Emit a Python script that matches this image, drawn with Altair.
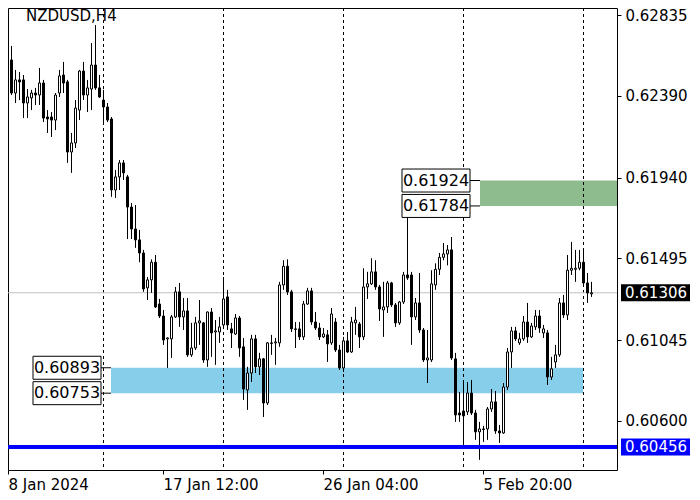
import altair as alt
import pandas as pd

# ---------------- data (NZDUSD, H4) ----------------
opens = [0.62439,0.62489,0.62588,0.62406,0.62478,0.62478,0.62351,0.62379,0.62406,0.62395,
         0.62461,0.62274,0.62274,0.62257,0.62406,0.62505,0.62467,0.62081,0.62131,0.62312,
         0.62527,0.62395,0.62428,0.62560,0.62434,0.62367,0.62329,0.62263,0.61872,0.61944,
         0.62021,0.61944,0.61778,0.61657,0.61597,0.61525,0.61333,0.61377,0.61474,0.61244,
         0.61178,0.61052,0.61052,0.61173,0.61311,0.61173,0.61206,0.60964,0.61002,0.61140,
         0.61140,0.60936,0.61200,0.61090,0.61090,0.61129,0.61283,0.61107,0.61079,0.61167,
         0.61008,0.60771,0.60864,0.61052,0.60898,0.60942,0.60699,0.61030,0.61030,0.61030,
         0.61349,0.61452,0.61311,0.61107,0.61107,0.61063,0.61244,0.61316,0.61145,0.61112,
         0.61063,0.61074,0.61030,0.61145,0.60991,0.60892,0.61041,0.60980,0.61140,0.61134,
         0.61063,0.61338,0.61355,0.61421,0.61338,0.61211,0.61228,0.61360,0.61239,0.61140,
         0.61255,0.61404,0.61404,0.61173,0.61250,0.61101,0.60936,0.60936,0.61349,0.61435,
         0.61501,0.61520,0.61542,0.60942,0.60644,0.60655,0.60650,0.60754,0.60644,0.60540,
         0.60556,0.60556,0.60666,0.60705,0.60545,0.60534,0.60787,0.60980,0.61096,0.61030,
         0.61052,0.61145,0.61063,0.61118,0.61178,0.61085,0.61085,0.60842,0.60925,0.60964,
         0.61250,0.61184,0.61430,0.61435,0.61441,0.61474,0.61360,0.61300]
highs = [0.62555,0.62588,0.62665,0.62533,0.62522,0.62505,0.62428,0.62423,0.62434,0.62544,
         0.62478,0.62312,0.62301,0.62406,0.62533,0.62577,0.62478,0.62186,0.62367,0.62533,
         0.62577,0.62478,0.62681,0.62780,0.62505,0.62423,0.62351,0.62274,0.61982,0.62037,
         0.62037,0.61955,0.61800,0.61789,0.61652,0.61542,0.61393,0.61490,0.61514,0.61272,
         0.61211,0.61060,0.61184,0.61338,0.61360,0.61277,0.61277,0.61140,0.61173,0.61266,
         0.61145,0.61203,0.61222,0.61156,0.61173,0.61393,0.61322,0.61140,0.61189,0.61178,
         0.61057,0.60898,0.61074,0.61074,0.60975,0.60947,0.61035,0.61074,0.61057,0.61366,
         0.61485,0.61490,0.61322,0.61145,0.61145,0.61261,0.61333,0.61333,0.61200,0.61140,
         0.61112,0.61101,0.61222,0.61167,0.61019,0.61063,0.61090,0.61173,0.61228,0.61145,
         0.61441,0.61421,0.61496,0.61485,0.61349,0.61366,0.61371,0.61366,0.61250,0.61261,
         0.61421,0.61734,0.61421,0.61277,0.61415,0.61112,0.61101,0.61430,0.61468,0.61525,
         0.61580,0.61569,0.61613,0.60975,0.60760,0.60809,0.60815,0.60826,0.60661,0.60595,
         0.60573,0.60677,0.60776,0.60765,0.60578,0.60809,0.61002,0.61118,0.61118,0.61085,
         0.61178,0.61250,0.61140,0.61211,0.61211,0.61129,0.61101,0.60953,0.61019,0.61277,
         0.61294,0.61514,0.61586,0.61542,0.61542,0.61542,0.61415,0.61366]
lows = [0.62356,0.62450,0.62395,0.62351,0.62367,0.62268,0.62268,0.62312,0.62340,0.62340,
        0.62246,0.62186,0.62164,0.62202,0.62384,0.62406,0.62021,0.61966,0.62103,0.62257,
        0.62367,0.62301,0.62312,0.62423,0.62379,0.62241,0.62246,0.61834,0.61828,0.61872,
        0.61927,0.61602,0.61602,0.61553,0.61474,0.61311,0.61266,0.61305,0.61222,0.61167,
        0.61019,0.60892,0.60947,0.61167,0.61118,0.61101,0.60953,0.60953,0.60991,0.61019,
        0.60920,0.60898,0.60953,0.60909,0.61030,0.61107,0.61101,0.61002,0.61074,0.60953,
        0.60716,0.60661,0.60815,0.60864,0.60853,0.60622,0.60688,0.60964,0.60909,0.61008,
        0.61322,0.61294,0.61090,0.61002,0.61046,0.61046,0.61239,0.61129,0.61101,0.61046,
        0.61057,0.60925,0.61019,0.60980,0.60881,0.60870,0.60975,0.60975,0.61074,0.61002,
        0.61046,0.61272,0.61349,0.61322,0.61151,0.61063,0.61195,0.61228,0.61118,0.61129,
        0.61244,0.61377,0.61019,0.61156,0.61085,0.60925,0.60809,0.60925,0.61322,0.61404,
        0.61485,0.61457,0.60936,0.60595,0.60595,0.60468,0.60633,0.60633,0.60496,0.60386,
        0.60485,0.60496,0.60650,0.60529,0.60479,0.60529,0.60771,0.60892,0.61041,0.61019,
        0.61041,0.61030,0.61057,0.61101,0.61085,0.61057,0.60798,0.60826,0.60892,0.60953,
        0.61167,0.61156,0.61404,0.61366,0.61430,0.61349,0.61250,0.61283]
closes = [0.62483,0.62582,0.62406,0.62478,0.62467,0.62351,0.62384,0.62406,0.62395,0.62461,
          0.62268,0.62263,0.62257,0.62395,0.62500,0.62461,0.62081,0.62131,0.62323,0.62527,
          0.62395,0.62434,0.62560,0.62434,0.62384,0.62329,0.62257,0.61872,0.61944,0.62021,
          0.61966,0.61778,0.61657,0.61597,0.61525,0.61327,0.61377,0.61474,0.61228,0.61178,
          0.61046,0.61057,0.61173,0.61311,0.61173,0.61206,0.60964,0.61002,0.61140,0.61151,
          0.60936,0.61200,0.61085,0.61096,0.61118,0.61272,0.61129,0.61085,0.61167,0.61002,
          0.60776,0.60864,0.61052,0.60898,0.60942,0.60699,0.61030,0.61027,0.61035,0.61349,
          0.61452,0.61311,0.61107,0.61104,0.61063,0.61244,0.61316,0.61145,0.61112,0.61063,
          0.61079,0.61024,0.61189,0.60991,0.60892,0.61041,0.60980,0.61145,0.61156,0.61063,
          0.61338,0.61355,0.61421,0.61338,0.61217,0.61228,0.61360,0.61239,0.61140,0.61255,
          0.61404,0.61388,0.61173,0.61250,0.61101,0.60936,0.60947,0.61355,0.61435,0.61501,
          0.61520,0.61542,0.60947,0.60633,0.60633,0.60628,0.60754,0.60644,0.60540,0.60556,
          0.60553,0.60666,0.60705,0.60545,0.60534,0.60787,0.60980,0.61096,0.61052,0.61052,
          0.61145,0.61063,0.61123,0.61178,0.61112,0.61107,0.60842,0.60887,0.60964,0.61250,
          0.61184,0.61430,0.61441,0.61441,0.61474,0.61360,0.61305,0.61306]

y_ticks = [0.62835, 0.62390, 0.61940, 0.61495, 0.61045, 0.60600]
x_tick_bars = [0, 40, 80, 120]
x_tick_labels = ["8 Jan 2024", "17 Jan 12:00", "26 Jan 04:00", "5 Feb 20:00"]
week_separators = [25, 55, 85, 115, 145]

support_zone = [0.60753, 0.60893]
support_zone_bars = [27, 145]
resist_zone = [0.61784, 0.61924]
resist_zone_bars = [119.25, 153.5]
support_line = 0.60456
bid_price = 0.61306
symbol = "NZDUSD,H4"

# ---------------- layout ----------------
FONT = "DejaVu Sans"
W, H = 609, 462
X_DOM = [1.25, 153.5]
Y_DOM = [0.60330, 0.62874]
PX = (Y_DOM[1] - Y_DOM[0]) / H  # price per pixel

df = pd.DataFrame({"idx": list(range(len(opens))), "open": opens, "high": highs,
                   "low": lows, "close": closes})
df["top"] = df[["open", "close"]].max(axis=1)
df["bot"] = df[["open", "close"]].min(axis=1)
df["fillc"] = ["white" if c >= o else "black" for o, c in zip(opens, closes)]

xscale = alt.Scale(domain=X_DOM, nice=False, zero=False, padding=0)
yscale = alt.Scale(domain=Y_DOM, nice=False, zero=False, padding=0)

tick_pos = [max(v, X_DOM[0]) for v in x_tick_bars]
expr = "''"
for p, lab in reversed(list(zip(tick_pos, x_tick_labels))):
    expr = f"abs(datum.value - {p}) < 1 ? '{lab}' : ({expr})"

xaxis = alt.Axis(values=tick_pos, labelExpr=expr, title=None, grid=False, domain=False,
                 tickSize=4, tickColor="black", labelAlign="left", labelBaseline="top",
                 labelPadding=3, labelFont=FONT, labelFontSize=15, labelColor="black",
                 labelFlush=False, labelOverlap=False)
yaxis = alt.Axis(values=y_ticks, format=".5f", orient="right", title=None, grid=False,
                 domain=False, tickSize=4, tickColor="black", labelPadding=4,
                 labelFont=FONT, labelFontSize=15, labelColor="black", labelBaseline="middle",
                 labelOverlap=False, labelFlush=False)


def X(f):
    return alt.X(f, type="quantitative", scale=xscale, axis=xaxis)


def Y(f):
    return alt.Y(f, type="quantitative", scale=yscale, axis=yaxis)


# zones
zones = pd.DataFrame({
    "x0": [support_zone_bars[0], resist_zone_bars[0]],
    "x1": [support_zone_bars[1], resist_zone_bars[1]],
    "lo": [support_zone[0], resist_zone[0]],
    "hi": [support_zone[1], resist_zone[1]],
    "col": ["#87CEEB", "#8FBC8F"],
})
zone_layer = alt.Chart(zones).mark_rect(clip=True).encode(
    x=X("x0"), x2="x1", y=Y("lo"), y2="hi", color=alt.Color("col:N", scale=None))

sep_layer = alt.Chart(pd.DataFrame({"s": week_separators})).mark_rule(
    color="black", strokeWidth=1, strokeDash=[3, 3], xOffset=0.5).encode(x=X("s"))

bid_layer = alt.Chart(pd.DataFrame({"p": [bid_price]})).mark_rule(
    color="#C0C0C0", strokeWidth=1).encode(y=Y("p"))

wick_layer = alt.Chart(df).mark_rule(color="black", strokeWidth=1, clip=True, xOffset=0.5).encode(
    x=X("idx"), y=Y("low"), y2="high")
body_layer = alt.Chart(df).mark_bar(size=2, stroke="black", strokeWidth=1, clip=True,
                                    xOffset=0.5).encode(
    x=X("idx"), y=Y("bot"), y2="top", color=alt.Color("fillc:N", scale=None))

line_layer = alt.Chart(pd.DataFrame({"p": [support_line]})).mark_rule(
    color="#0000FF", strokeWidth=4).encode(y=Y("p"))

# price label boxes on the chart
BOX_H = 11.5 * PX
boxes = pd.DataFrame({
    "p": [support_zone[1], support_zone[0], resist_zone[1], resist_zone[0]],
    "bx0": [7.5, 7.5, 99.75, 99.75],
    "bx1": [24.5, 24.5, 116.75, 116.75],
    "zx": [support_zone_bars[0]] * 2 + [resist_zone_bars[0]] * 2,
})
boxes["lab"] = [f"{v:.5f}" for v in boxes["p"]]
boxes["bxc"] = (boxes["bx0"] + boxes["bx1"]) / 2
boxes["plo"] = boxes["p"] - BOX_H
boxes["phi"] = boxes["p"] + BOX_H
conn_layer = alt.Chart(boxes).mark_rule(color="black", strokeWidth=1).encode(
    x=X("bx1"), x2="zx", y=Y("p"))
box_layer = alt.Chart(boxes).mark_rect(fill="white", stroke="black", strokeWidth=1).encode(
    x=X("bx0"), x2="bx1", y=Y("plo"), y2="phi")
box_text = alt.Chart(boxes).mark_text(font=FONT, fontSize=16, color="black", align="center",
                                      baseline="middle").encode(
    x=X("bxc"), y=Y("p"), text="lab:N")

# axis-side price tags
TAG_H = 8.5 * PX
tags = pd.DataFrame({"p": [bid_price, support_line], "col": ["black", "#0000FF"]})
tags["lab"] = [f"{v:.5f}" for v in tags["p"]]
tags["plo"] = tags["p"] - TAG_H
tags["phi"] = tags["p"] + TAG_H
tag_rect = alt.Chart(tags).mark_rect().encode(
    x=alt.value(W + 4), x2=alt.value(W + 73), y=Y("plo"), y2="phi",
    color=alt.Color("col:N", scale=None))
tag_text = alt.Chart(tags).mark_text(font=FONT, fontSize=15, color="white", align="left",
                                     baseline="middle").encode(
    x=alt.value(W + 8), y=Y("p"), text="lab:N")

title_layer = alt.Chart(pd.DataFrame({"t": [symbol]})).mark_text(
    font=FONT, fontSize=15, color="black", align="left", baseline="alphabetic").encode(
    x=alt.value(18), y=alt.value(13), text="t:N")

chart = alt.layer(
    zone_layer, sep_layer, bid_layer, wick_layer, body_layer, line_layer,
    conn_layer, box_layer, box_text, tag_rect, tag_text, title_layer
).properties(
    width=W, height=H,
    padding={"left": 0, "top": 0, "right": 75, "bottom": 24},
    autosize=alt.AutoSizeParams(type="none"),
    background="white"
).configure_view(stroke="black", strokeWidth=1)

chart.save("out.html", embed_options={"renderer": "svg", "actions": False})
